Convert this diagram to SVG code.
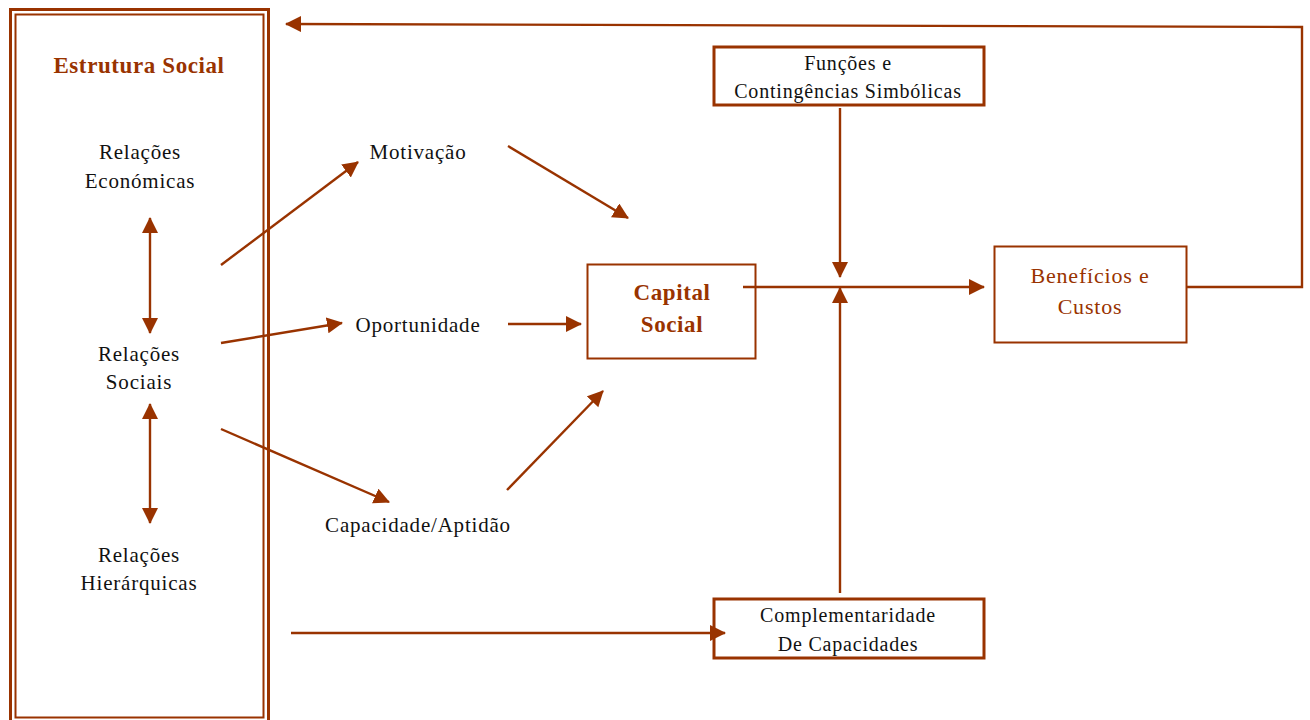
<svg xmlns="http://www.w3.org/2000/svg" width="1310" height="720" viewBox="0 0 1310 720">
<style>
text{font-family:"Liberation Serif","Times New Roman",serif;text-anchor:middle;}
.t{font-size:21px;fill:#111;letter-spacing:0.8px;}
.b{font-size:23px;font-weight:bold;fill:#993300;letter-spacing:0.6px;}
.br{font-size:22px;fill:#993300;letter-spacing:0.8px;}
.box{fill:#fff;stroke:#993300;}
.c{fill:none;stroke:#993300;stroke-width:2.4;}
</style>
<defs>
<marker id="ah" markerUnits="userSpaceOnUse" markerWidth="17" markerHeight="17" refX="15" refY="8" orient="auto">
<path d="M0,0 L16,8 L0,16 z" fill="#993300"/>
</marker>
<marker id="as" markerUnits="userSpaceOnUse" markerWidth="17" markerHeight="17" refX="1" refY="8" orient="auto">
<path d="M16,0 L0,8 L16,16 z" fill="#993300"/>
</marker>
</defs>
<rect width="1310" height="720" fill="#fff"/>
<g id="estrutura-social">
<rect x="10.5" y="9.5" width="258" height="713" fill="none" stroke="#993300" stroke-width="3"/>
<rect x="15.5" y="14.5" width="248" height="703" fill="none" stroke="#993300" stroke-width="2"/>
<text class="b" x="139" y="73">Estrutura Social</text>
</g>
<g id="rel-economicas">
<text class="t" x="140" y="159">Relações</text>
<text class="t" x="140" y="188">Económicas</text>
</g>
<g id="rel-sociais">
<text class="t" x="139" y="361">Relações</text>
<text class="t" x="139" y="389">Sociais</text>
</g>
<g id="rel-hierarquicas">
<text class="t" x="139" y="562">Relações</text>
<text class="t" x="139" y="590">Hierárquicas</text>
</g>
<g id="motivacao"><text class="t" x="418" y="159">Motivação</text></g>
<g id="oportunidade"><text class="t" x="418" y="332">Oportunidade</text></g>
<g id="capacidade"><text class="t" x="418" y="532">Capacidade/Aptidão</text></g>
<g id="capital-social">
<rect class="box" x="587.5" y="264.5" width="168" height="94" stroke-width="2"/>
<text class="b" x="672" y="300">Capital</text>
<text class="b" x="672" y="332">Social</text>
</g>
<g id="beneficios">
<rect class="box" x="994.5" y="246.5" width="192" height="96" stroke-width="2"/>
<text class="br" x="1090" y="283">Benefícios e</text>
<text class="br" x="1090" y="314">Custos</text>
</g>
<g id="funcoes">
<rect class="box" x="714" y="47" width="270" height="58" stroke-width="3"/>
<text class="t" x="848" y="70" style="font-size:20px">Funções e</text>
<text class="t" x="848" y="98" style="font-size:20px">Contingências Simbólicas</text>
</g>
<g id="complementaridade">
<rect class="box" x="714" y="599" width="270" height="59" stroke-width="3"/>
<text class="t" x="848" y="622" style="font-size:20px">Complementaridade</text>
<text class="t" x="848" y="651" style="font-size:20px">De Capacidades</text>
</g>
<g id="connectors">
<path class="c" d="M1187,287 L1302,287 L1302,27 L286,24" marker-end="url(#ah)"/>
<path class="c" d="M150,218 L150,333" marker-start="url(#as)" marker-end="url(#ah)"/>
<path class="c" d="M150,404 L150,523" marker-start="url(#as)" marker-end="url(#ah)"/>
<path class="c" d="M221,265 L358,162" marker-end="url(#ah)"/>
<path class="c" d="M221,343 L342,323" marker-end="url(#ah)"/>
<path class="c" d="M221,429 L389,502" marker-end="url(#ah)"/>
<path class="c" d="M508,146 L628,218" marker-end="url(#ah)"/>
<path class="c" d="M508,324 L581,324" marker-end="url(#ah)"/>
<path class="c" d="M507,490 L603,391" marker-end="url(#ah)"/>
<path class="c" d="M743,287 L984,287" marker-end="url(#ah)"/>
<path class="c" d="M840,108 L840,277" marker-end="url(#ah)"/>
<path class="c" d="M840,593 L840,288" marker-end="url(#ah)"/>
<path class="c" d="M291,633 L725,633" marker-end="url(#ah)"/>
</g>
</svg>
